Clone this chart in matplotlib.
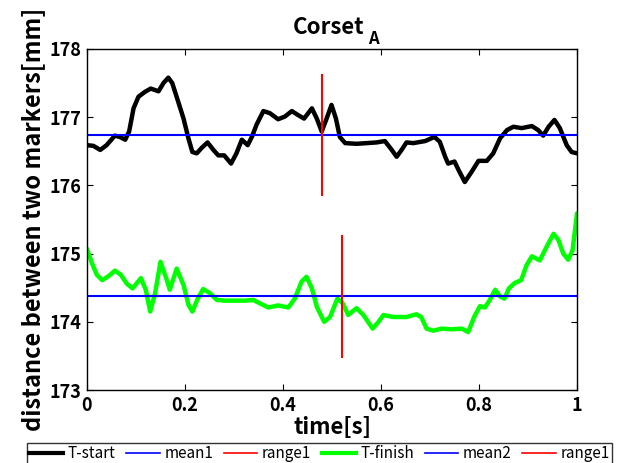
import matplotlib
matplotlib.use("Agg")
import matplotlib.pyplot as plt
from matplotlib.lines import Line2D

# ---- data ----
t_start_time = [0.0, 0.013, 0.027, 0.040, 0.057, 0.067, 0.078, 0.086, 0.095, 0.105,
                0.118, 0.130, 0.146, 0.156, 0.166, 0.174, 0.186, 0.197, 0.207, 0.215,
                0.224, 0.234, 0.246, 0.258, 0.268, 0.280, 0.294, 0.305, 0.316, 0.328,
                0.337, 0.346, 0.360, 0.373, 0.390, 0.404, 0.418, 0.431, 0.443, 0.459,
                0.469, 0.479, 0.489, 0.499, 0.508, 0.516, 0.527, 0.550, 0.571, 0.591,
                0.608, 0.622, 0.632, 0.642, 0.652, 0.666, 0.690, 0.709, 0.720, 0.731,
                0.737, 0.750, 0.758, 0.771, 0.785, 0.799, 0.816, 0.829, 0.843, 0.857,
                0.870, 0.887, 0.908, 0.921, 0.931, 0.942, 0.954, 0.965, 0.979, 0.989, 1.0]
t_start_vals = [176.59, 176.58, 176.52, 176.59, 176.73, 176.71, 176.67, 176.79, 177.13, 177.30,
                177.37, 177.42, 177.38, 177.50, 177.58, 177.50, 177.23, 176.98, 176.69, 176.49,
                176.47, 176.55, 176.63, 176.52, 176.44, 176.44, 176.32, 176.47, 176.67, 176.59,
                176.72, 176.89, 177.09, 177.06, 176.97, 177.01, 177.09, 177.03, 176.98, 177.13,
                176.98, 176.79, 176.98, 177.18, 176.98, 176.71, 176.62, 176.61, 176.62, 176.63,
                176.65, 176.52, 176.42, 176.52, 176.63, 176.62, 176.65, 176.71, 176.64, 176.42,
                176.32, 176.35, 176.23, 176.05, 176.20, 176.36, 176.36, 176.47, 176.69, 176.81,
                176.86, 176.84, 176.87, 176.81, 176.73, 176.86, 176.96, 176.84, 176.59, 176.49, 176.47]

t_finish_time = [0.0, 0.010, 0.020, 0.031, 0.044, 0.057, 0.069, 0.081, 0.093, 0.101,
                 0.110, 0.120, 0.129, 0.139, 0.150, 0.163, 0.169, 0.183, 0.197, 0.207,
                 0.215, 0.226, 0.237, 0.251, 0.265, 0.282, 0.302, 0.322, 0.339, 0.353,
                 0.370, 0.390, 0.411, 0.424, 0.438, 0.448, 0.459, 0.469, 0.484, 0.496,
                 0.511, 0.522, 0.533, 0.550, 0.564, 0.583, 0.595, 0.605, 0.625, 0.652,
                 0.672, 0.682, 0.693, 0.707, 0.724, 0.744, 0.765, 0.778, 0.790, 0.802,
                 0.812, 0.822, 0.833, 0.843, 0.852, 0.861, 0.873, 0.886, 0.897, 0.908,
                 0.924, 0.938, 0.952, 0.962, 0.972, 0.982, 0.991, 0.996, 1.0]
t_finish_vals = [175.07, 174.86, 174.69, 174.61, 174.67, 174.75, 174.69, 174.56, 174.49, 174.56,
                 174.64, 174.47, 174.15, 174.42, 174.88, 174.61, 174.47, 174.78, 174.54, 174.25,
                 174.15, 174.34, 174.48, 174.42, 174.32, 174.31, 174.31, 174.31, 174.32, 174.27,
                 174.21, 174.24, 174.21, 174.34, 174.59, 174.66, 174.49, 174.22, 174.00, 174.07,
                 174.34, 174.27, 174.10, 174.20, 174.10, 173.90, 174.00, 174.10, 174.07, 174.07,
                 174.11, 174.07, 173.90, 173.87, 173.90, 173.89, 173.90, 173.85, 174.07, 174.23,
                 174.21, 174.32, 174.47, 174.37, 174.34, 174.49, 174.57, 174.61, 174.83, 174.96,
                 174.90, 175.10, 175.29, 175.20, 175.00, 174.91, 175.05, 175.35, 175.59]

mean1 = 176.74
mean2 = 174.38
range1_t = 0.479
range1_lo, range1_hi = 175.86, 177.62
range2_t = 0.52
range2_lo, range2_hi = 173.49, 175.26

x_ticks = [0, 0.2, 0.4, 0.6, 0.8, 1]
x_tick_labels = ["0", "0.2", "0.4", "0.6", "0.8", "1"]
y_ticks = [173, 174, 175, 176, 177, 178]
legend_labels = ["T-start", "mean1", "range1", "T-finish", "mean2", "range1"]

FONT = ["Noto Sans CJK JP", "DejaVu Sans"]
plt.rcParams["font.family"] = FONT

fig = plt.figure(figsize=(6.24, 4.63), dpi=100)
ax = fig.add_axes([87/624, 1-390/463, 490/624, 341/463])

ax.plot(t_start_time, t_start_vals, color="black", lw=3.2, solid_joinstyle="round", solid_capstyle="round")
ax.axhline(mean1, color="#0000ff", lw=1.5)
ax.plot([range1_t, range1_t], [range1_lo, range1_hi], color="#ff0000", lw=1.5)
ax.plot(t_finish_time, t_finish_vals, color="#00ff00", lw=3.2, solid_joinstyle="round", solid_capstyle="round")
ax.axhline(mean2, color="#0000ff", lw=1.5)
ax.plot([range2_t, range2_t], [range2_lo, range2_hi], color="#ff0000", lw=1.5)

ax.set_xlim(0, 1)
ax.set_ylim(173, 178)
ax.set_xticks(x_ticks)
ax.set_xticklabels(x_tick_labels)
ax.set_yticks(y_ticks)
ax.tick_params(direction="in", top=True, right=True, length=4, width=0.8,
               labelsize=13, pad=4)
for lbl in ax.get_xticklabels() + ax.get_yticklabels():
    lbl.set_fontweight("bold")
for s in ax.spines.values():
    s.set_linewidth(1.0)

ax.set_xlabel("time[s]", fontsize=16, fontweight="bold", labelpad=1)
ax.set_ylabel("distance between two markers[mm]", fontsize=17, fontweight="bold", labelpad=3)

fig.text(0.5 * (87 + 577) / 624 - 0.006, 1 - 28/463, "Corset", fontsize=16, fontweight="bold",
         ha="center", va="center")
fig.text(0.5 * (87 + 577) / 624 + 0.066, 1 - 39/463, "A", fontsize=12, fontweight="bold",
         ha="center", va="center")

handles = [Line2D([], [], color="black", lw=3),
           Line2D([], [], color="#0000ff", lw=1.2),
           Line2D([], [], color="#ff0000", lw=1.2),
           Line2D([], [], color="#00ff00", lw=3),
           Line2D([], [], color="#0000ff", lw=1.2),
           Line2D([], [], color="#ff0000", lw=1.2)]
leg = fig.legend(handles, legend_labels, ncol=6, loc="upper left",
                 bbox_to_anchor=(27/624, 1 - 443/463), borderaxespad=0,
                 fontsize=11, handlelength=2.2, handletextpad=0.3, columnspacing=0.7,
                 frameon=True, fancybox=False, borderpad=0.15)
leg.get_frame().set_edgecolor("black")
leg.get_frame().set_linewidth(1.0)

fig.savefig("out.png", dpi=100)
